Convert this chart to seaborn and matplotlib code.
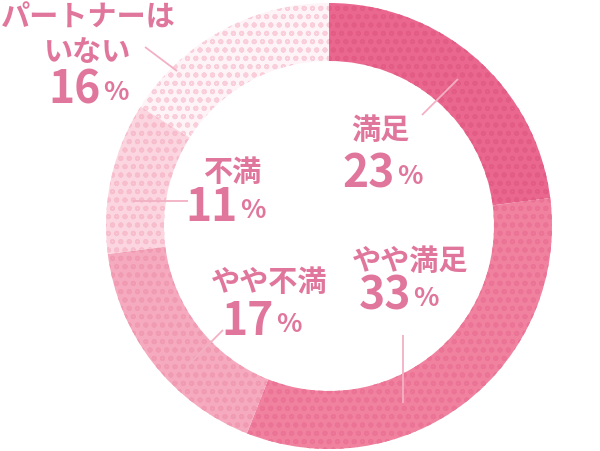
import matplotlib
matplotlib.use("Agg")
import matplotlib.pyplot as plt
import seaborn as sns

categories = ["満足", "やや満足", "やや不満", "不満", "パートナーはいない"]
values = [23, 33, 17, 11, 16]
label_lines = [["満足"], ["やや満足"], ["やや不満"], ["不満"], ["パートナーは", "いない"]]
pct_text = ["23", "33", "17", "11", "16"]

face_colors = ["#EA6890", "#F0819F", "#F5AABF", "#FBD6E0", "#FEF4F7"]
dot_colors = ["#E35C85", "#EB7496", "#F09BB2", "#F7BDCD", "#F9CDD9"]
text_color = "#E0769C"

sns.set_theme(style="white")
plt.rcParams["font.family"] = ["Noto Sans CJK JP", "DejaVu Sans"]
plt.rcParams["hatch.linewidth"] = 1.3

W, H = 600, 451
fig = plt.figure(figsize=(W / 100, H / 100), dpi=100)
ax = fig.add_axes([0, 0, 1, 1])

def Y(py):
    return H - py

wedges, _ = ax.pie(
    values,
    colors=face_colors,
    startangle=90,
    counterclock=False,
    center=(329, Y(226)),
    radius=223,
    frame=True,
    wedgeprops=dict(width=58, linewidth=0),
)
for w, dc in zip(wedges, dot_colors):
    w.set_hatch("oo")
    w.set_edgecolor(dc)
    w.set_linewidth(0)

ax.set_xlim(0, W)
ax.set_ylim(0, H)
ax.set_aspect("auto")
ax.axis("off")

# leader lines (pixel coords)
leaders = [
    [(422, 115), (458, 79)],
    [(403, 335), (403, 403)],
    [(223, 330), (188, 365)],
    [(133, 201), (188, 201)],
    [(145, 47), (177, 71)],
]
for (x0, y0), (x1, y1) in leaders:
    ax.plot([x0, x1], [Y(y0), Y(y1)], color="#F3B0C4", lw=1.3, solid_capstyle="butt")

name_pos = [
    (380, [130]),
    (410, [261]),
    (269, [282]),
    (232, [172]),
    (88, [18, 52]),
]
pct_pos = [
    (395, 175),
    (411, 297),
    (274, 322),
    (238, 208),
    (101, 90),
]
for lines, (nx, nys), (px, py), pt in zip(label_lines, name_pos, pct_pos, pct_text):
    for ln, ny in zip(lines, nys):
        ax.text(nx, Y(ny), ln, ha="center", va="center", fontsize=21,
                fontweight="bold", color=text_color)
    ax.text(px, Y(py), pt, ha="right", va="center", fontsize=32,
            fontweight="bold", color=text_color)
    ax.text(px + 2, Y(py + 2), "%", ha="left", va="center", fontsize=19,
            fontweight="bold", color=text_color)

fig.savefig("out.png", dpi=100, facecolor="white")
